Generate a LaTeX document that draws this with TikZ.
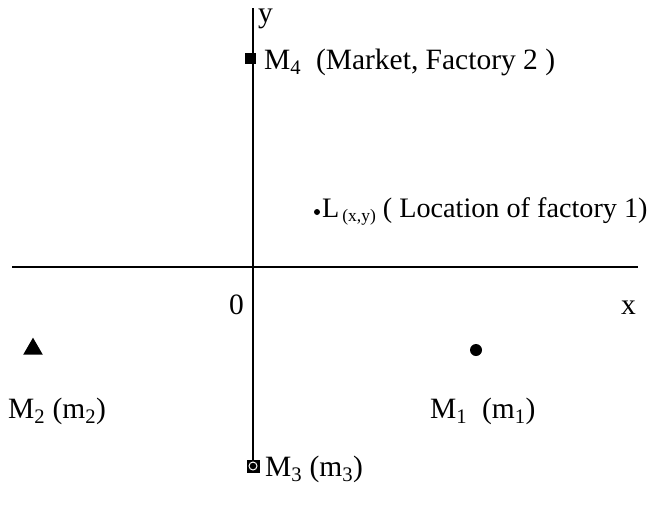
\documentclass[tikz,border=0pt]{standalone}
\usepackage{fontspec}
\setmainfont{Liberation Serif}
\usetikzlibrary{shapes.geometric}
\tikzset{
  lbl/.style={inner sep=0pt, anchor=base west, font=\fontsize{29.5}{34}\selectfont},
  axis/.style={line width=1.6pt},
  sq/.style={rectangle, fill=black, minimum size=11pt, inner sep=0pt},
}
\begin{document}
\begin{tikzpicture}[x=1pt,y=-1pt]
\useasboundingbox (0,0) rectangle (659,515);
% axes
\coordinate (xl) at (12,267);
\coordinate (xr) at (638,267);
\coordinate (yt) at (253,8);
\coordinate (yb) at (253,466);
\draw[axis] (xl) -- (xr);
\draw[axis] (yt) -- (yb);
% axis labels
\node[lbl] (ylab) at (258,22) {y};
\node[lbl] (zero) at (229,314) {0};
\node[lbl] (xlab) at (621,314) {x};
% M4
\node[sq] (m4) at (250,58) {};
\node[lbl] (m4lab) at (264,69) {M\textsubscript{4}\ \ (Market, Factory 2 )};
% L
\node[circle, fill=black, minimum size=6pt, inner sep=0pt] (L) at (317,212) {};
\node[lbl, font=\fontsize{28.2}{32}\selectfont] (Llab) at (322,217) {L\raisebox{-0.35ex}{\fontsize{17.5}{19}\selectfont\,(x,y)} ( Location of factory 1)};
% M2
\node[isosceles triangle, isosceles triangle apex angle=60, shape border rotate=90, fill=black, minimum height=17pt, inner sep=0pt] (m2) at (33,349) {};
\node[lbl] (m2lab) at (8,418) {M\textsubscript{2} (m\textsubscript{2})};
% M1
\node[circle, fill=black, minimum size=12pt, inner sep=0pt] (m1) at (476,350) {};
\node[lbl] (m1lab) at (430,418) {M\textsubscript{1}\ \ (m\textsubscript{1})};
% M3
\node[sq, minimum size=13pt] (m3) at (253,466) {};
\node[circle, draw=white, line width=1pt, minimum size=8pt, inner sep=0pt] (m3c) at (m3) {};
\node[lbl] (m3lab) at (265,476) {M\textsubscript{3} (m\textsubscript{3})};
\end{tikzpicture}
\end{document}
